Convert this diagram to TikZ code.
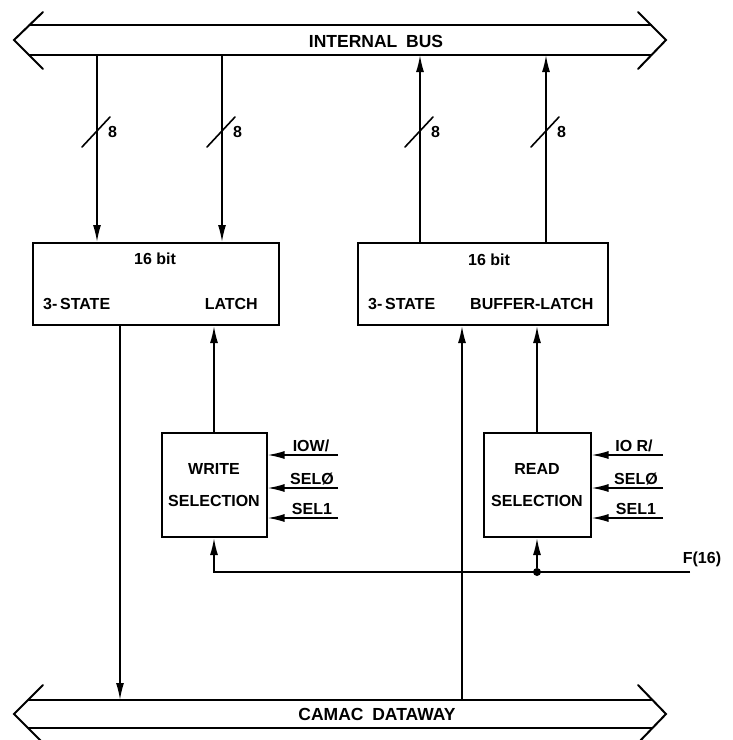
\documentclass[tikz,border=0pt]{standalone}
\usepackage{fontspec}
\setmainfont{Liberation Sans}
\usetikzlibrary{arrows.meta,positioning,calc}
\tikzset{
  blk/.style={draw, line width=2pt, inner sep=0pt, align=center},
  sig/.style={-{Latex[length=17pt, width=8pt]}, line width=1.6pt},
  wire/.style={line width=1.6pt, line cap=round},
  lbl/.style={font=\fontsize{16}{19}\selectfont\bfseries, inner sep=1pt}
}

\begin{document}
\begin{tikzpicture}[x=1pt, y=-1pt,
    bus/.style={line width=2pt, line cap=round, line join=miter},
    buslbl/.style={lbl, font=\fontsize{17.5}{20}\selectfont\bfseries},
    latch/.style={blk, minimum height=82pt},
    sel/.style={blk, font=\fontsize{16}{19}\selectfont\bfseries, minimum height=104pt},
    dot/.style={circle, fill, inner sep=0pt, minimum size=8pt}
  ]
    \path[use as bounding box] (0,0) rectangle (732,740);

    \draw[bus] (43,12) -- (14,40) -- (43,69);
    \draw[bus] (638,12) -- (666,40) -- (638,69);
    \draw[bus] (29.5,25) -- (651,25) (29,55) -- (651.5,55);
    \node[buslbl] (ibus) at (376,41) {INTERNAL\enspace BUS};

    \draw[bus] (43,685) -- (14,714) -- (43,743);
    \draw[bus] (638,685) -- (666,714) -- (638,743);
    \draw[bus] (28.5,700) -- (651.5,700) (28.5,728) -- (651.5,728);
    \node[buslbl] (cdw) at (377,714) {CAMAC\enspace DATAWAY};

    \coordinate (ib1) at (97,55);
    \coordinate (ib2) at (222,55);
    \coordinate (ib3) at (420,55);
    \coordinate (ib4) at (546,55);
    \coordinate (cd1) at (120,700);
    \coordinate (cd2) at (462,700);

    \node[latch, minimum width=246pt] (wl) at (156,284) {};
    \node[latch, minimum width=250pt] (rl) at (483,284) {};
    \node[lbl] at (155,259) {16 bit};
    \node[lbl, anchor=west] at (42,304) {3-\,STATE};
    \node[lbl, anchor=east] at (259,304) {LATCH};
    \node[lbl] at (489,260) {16 bit};
    \node[lbl, anchor=west] at (367,304) {3-\,STATE};
    \node[lbl, anchor=west] at (469,304) {BUFFER-LATCH};

    \node[sel, minimum width=105pt] (ws) at (214,485) {WRITE\\[13pt]SELECTION};
    \node[sel, minimum width=107pt] (rs) at (537,485) {READ\\[13pt]SELECTION};

    \draw[sig] (ib1) -- (ib1 |- wl.north);
    \draw[sig] (ib2) -- (ib2 |- wl.north);
    \draw[sig] (ib3 |- rl.north) -- (ib3);
    \draw[sig] (ib4 |- rl.north) -- (ib4);
    \foreach \c in {ib1,ib2,ib3,ib4}{
      \draw[wire] ($(\c)+(-15,92)$) -- ++(28,-30);
      \node[lbl, anchor=west] at ($(\c)+(10,77)$) {8};
    }

    \draw[sig] (cd1 |- wl.south) -- (cd1);
    \draw[sig] (cd2) -- (cd2 |- rl.south);
    \draw[sig] (ws.north) -- (ws.north |- wl.south);
    \draw[sig] (rs.north) -- (rs.north |- rl.south);

    \coordinate (wi1) at (338,455);
    \coordinate (wi2) at (338,488);
    \coordinate (wi3) at (338,518);
    \coordinate (ri1) at (663,455);
    \coordinate (ri2) at (663,488);
    \coordinate (ri3) at (663,518);
    \draw[sig] (wi1) -- (wi1 -| ws.east);
    \draw[sig] (wi2) -- (wi2 -| ws.east);
    \draw[sig] (wi3) -- (wi3 -| ws.east);
    \draw[sig] (ri1) -- (ri1 -| rs.east);
    \draw[sig] (ri2) -- (ri2 -| rs.east);
    \draw[sig] (ri3) -- (ri3 -| rs.east);
    \node[lbl, anchor=south] at (311,453) {IOW/};
    \node[lbl, anchor=south] at (312,486) {SELØ};
    \node[lbl, anchor=south] at (312,516) {SEL1};
    \node[lbl, anchor=south] at (634,453) {IO R/};
    \node[lbl, anchor=south] at (636,486) {SELØ};
    \node[lbl, anchor=south] at (636,516) {SEL1};

    \coordinate (f16) at (690,572);
    \node[dot] (jn) at (rs.south |- f16) {};
    \draw[sig] (f16) -| (ws.south);
    \draw[sig] (jn) -- (rs.south);
    \node[lbl, anchor=south] at (702,568) {F(16)};
  \end{tikzpicture}
\end{document}
